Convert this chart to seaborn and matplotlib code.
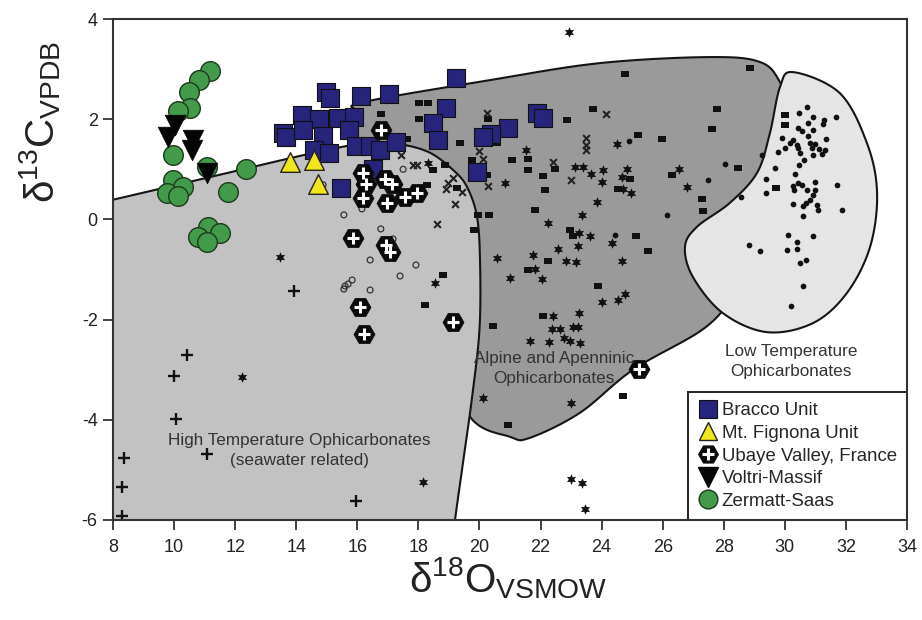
import numpy as np
import pandas as pd
import matplotlib
matplotlib.use("Agg")
import matplotlib.pyplot as plt
import seaborn as sns
from matplotlib.lines import Line2D
from matplotlib.legend_handler import HandlerTuple

# ---------------- data ----------------
bracco_x = [14.97, 15.11, 16.12, 17.04, 19.23, 14.19, 14.75, 15.37, 15.89, 13.57, 13.66,
            14.22, 14.88, 15.73, 15.96, 16.42, 16.74, 17.27, 14.58, 15.07, 16.51, 15.47,
            18.90, 18.48, 18.64, 21.88, 22.08, 20.93, 20.38, 20.12, 19.92]
bracco_y = [2.54, 2.42, 2.46, 2.50, 2.82, 2.08, 2.00, 2.02, 2.04, 1.72, 1.64,
            1.78, 1.66, 1.78, 1.47, 1.47, 1.39, 1.54, 1.39, 1.33, 1.01, 0.63,
            2.22, 1.92, 1.58, 2.12, 2.02, 1.82, 1.70, 1.64, 0.95]

fignona_x = [13.80, 14.58, 14.71]
fignona_y = [1.15, 1.19, 0.71]

ubaye_x = [16.78, 16.19, 16.28, 16.91, 17.14, 16.19, 16.97, 17.56, 17.95, 15.86, 16.94,
           17.07, 16.09, 16.22, 19.13, 25.22]
ubaye_y = [1.78, 0.93, 0.71, 0.81, 0.71, 0.43, 0.33, 0.45, 0.53, -0.37, -0.51,
           -0.65, -1.75, -2.29, -2.05, -2.99]

voltri_x = [10.03, 9.80, 10.62, 10.59, 11.08]
voltri_y = [1.88, 1.64, 1.58, 1.39, 0.93]

zermatt_x = [11.18, 10.82, 10.49, 10.52, 10.13, 9.96, 11.08, 12.35, 11.77, 9.96, 10.29,
             9.77, 10.13, 11.11, 11.50, 10.78, 11.08]
zermatt_y = [2.96, 2.78, 2.54, 2.22, 2.16, 1.29, 1.05, 1.01, 0.55, 0.79, 0.65,
             0.53, 0.47, -0.15, -0.27, -0.35, -0.45]

# literature data (background symbols)
rect_x = [24.77, 18.31, 23.72, 22.87, 25.20, 25.98, 19.36, 20.28, 20.57, 21.07, 21.59,
          21.59, 22.47, 22.08, 22.15, 19.75, 20.25, 18.87, 18.48, 18.28, 19.26, 24.93,
          24.54, 26.30, 27.28, 27.32, 27.61, 27.78, 21.82, 19.95, 20.31, 19.82, 22.96,
          23.06, 25.13, 25.52, 22.24, 21.59, 18.81, 18.22, 23.88, 22.08, 20.44, 24.70,
          20.93, 28.86, 28.47, 29.71, 30.01, 30.01, 18.02, 18.02, 16.77, 17.63]
rect_y = [2.90, 2.32, 2.20, 1.98, 1.68, 1.60, 1.52, 2.00, 1.52, 1.19, 1.21,
          0.99, 1.01, 0.87, 0.59, 1.19, 0.89, 1.09, 0.99, 0.69, 0.63, 0.81,
          0.61, 0.89, 0.41, 0.17, 1.80, 2.20, 0.19, 0.09, 0.09, -0.21, -0.21,
          -0.33, -0.33, -0.63, -0.83, -1.01, -1.11, -1.71, -1.33, -1.93, -2.13, -3.52,
          -4.10, 3.02, 1.03, 0.63, 2.08, 1.88, 2.32, 2.00, 2.10, 1.60]

cross_x = [20.25, 24.14, 23.49, 23.49, 23.49, 19.98, 20.12, 22.41, 23.00, 20.28, 19.20,
           18.61, 17.43, 17.82, 17.95, 19.13, 18.97, 18.90, 19.43]
cross_y = [2.12, 2.10, 1.62, 1.49, 1.38, 1.36, 1.21, 1.15, 0.79, 0.67, 0.31,
           -0.09, 1.28, 1.09, 1.09, 0.83, 0.73, 0.61, 0.55]

star_x = [22.93, 21.52, 24.50, 23.13, 23.39, 23.65, 24.04, 24.01, 24.83, 24.67, 24.70,
          24.96, 20.84, 23.85, 23.36, 26.53, 26.80, 22.24, 23.26, 23.62, 23.23, 24.34,
          22.57, 22.83, 23.16, 21.75, 20.57, 21.82, 22.05, 21.00, 24.67, 24.01, 24.54,
          24.76, 23.26, 22.41, 22.37, 22.64, 23.06, 23.23, 21.65, 22.28, 22.77, 22.96,
          23.29, 20.12, 23.00, 18.54, 18.31, 13.47, 12.22, 18.15, 23.00, 23.36, 23.46]
star_y = [3.74, 1.39, 1.51, 1.05, 1.05, 0.91, 0.99, 0.75, 1.01, 0.85, 0.61,
          0.53, 0.73, 0.35, 0.09, 1.01, 0.65, -0.07, -0.27, -0.33, -0.53, -0.47,
          -0.59, -0.83, -0.85, -0.71, -0.77, -0.99, -1.19, -1.17, -0.83, -1.65, -1.61,
          -1.49, -1.87, -1.93, -2.19, -2.19, -2.15, -2.15, -2.43, -2.45, -2.37, -2.43,
          -2.47, -3.56, -3.66, -1.27, 1.13, -0.75, -3.14, -5.24, -5.18, -5.26, -5.78]

dot_x = [24.90, 27.48, 26.14, 24.44, 28.04,
         30.73, 30.46, 31.68, 30.92, 31.28, 31.25, 30.76, 30.43, 30.56, 30.92, 30.76,
         29.91, 30.27, 31.35, 30.17, 30.40, 30.83, 30.99, 30.43, 30.01, 30.89, 31.12,
         31.32, 30.50, 30.92, 29.78, 29.25, 31.22, 30.63, 30.46, 29.68, 30.33, 29.38,
         30.43, 30.27, 30.56, 30.99, 31.71, 30.30, 30.73, 30.99, 29.38, 30.92, 30.83,
         28.56, 30.27, 30.60, 30.69, 31.05, 31.09, 31.87, 30.60, 30.10, 30.92, 30.40,
         28.83, 29.19, 30.07, 30.40, 30.69, 30.50, 30.60, 30.20]
dot_y = [1.57, 0.79, 0.09, -0.31, 1.11,
         2.24, 2.12, 2.04, 2.04, 1.98, 1.90, 1.92, 1.82, 1.76, 1.78, 1.66,
         1.62, 1.58, 1.60, 1.52, 1.48, 1.52, 1.50, 1.43, 1.43, 1.43, 1.41,
         1.39, 1.33, 1.29, 1.35, 1.29, 1.31, 1.19, 1.09, 1.03, 0.91, 0.81,
         0.73, 0.67, 0.69, 0.75, 0.69, 0.59, 0.59, 0.59, 0.53, 0.49, 0.39,
         0.45, 0.31, 0.27, 0.33, 0.29, 0.19, 0.19, 0.07, -0.31, -0.33, -0.45,
         -0.51, -0.63, -0.61, -0.59, -0.81, -0.87, -1.33, -1.73]

ring_x = [17.50, 14.88, 15.56, 16.15, 16.77, 17.17, 16.42, 17.92, 17.40, 15.83, 15.70,
          15.60, 15.56, 16.42]
ring_y = [1.00, 0.69, 0.09, 0.21, -0.19, -0.39, -0.81, -0.91, -1.13, -1.21, -1.29,
          -1.33, -1.39, -1.41]

plus_x = [13.93, 10.42, 10.00, 10.06, 8.36, 11.08, 8.30, 8.30, 15.96]
plus_y = [-1.43, -2.71, -3.13, -3.99, -4.77, -4.69, -5.35, -5.92, -5.62]

# field outlines
hight_x = [7.0, 11.0, 14.0, 15.7, 16.6, 17.5, 18.38, 19.13, 19.59, 19.92, 20.02, 20.0,
           19.76, 19.46, 19.2, 19.1]
hight_y = [0.25, 0.82, 1.25, 1.47, 1.53, 1.49, 1.33, 0.99, 0.65, 0.05, -0.87, -2.2,
           -3.54, -4.86, -6.0, -6.6]
alpine_x = [16.19, 20.34, 23.95, 27.55, 29.19, 29.84, 30.3, 30.0, 29.2, 28.3, 27.3, 25.03,
            23.29, 21.65, 21.0, 19.69, 18.8, 18.5, 16.5, 15.9, 15.95]
alpine_y = [2.34, 2.78, 3.12, 3.24, 3.14, 2.74, 2.0, 0.6, -0.7, -1.55, -2.2, -3.0,
            -3.86, -4.36, -4.34, -3.94, -2.5, 0.0, 1.0, 1.7, 2.15]
lowt_x = [30.27, 31.80, 32.69, 33.02, 32.79, 32.03, 30.92, 29.41, 27.97, 26.99, 26.73,
          27.12, 28.20, 29.09, 29.51, 29.84]
lowt_y = [2.94, 2.52, 1.52, 0.53, -0.55, -1.47, -2.07, -2.25, -1.87, -1.15, -0.55,
          -0.15, 0.33, 0.93, 1.72, 2.64]

xticks = [8, 10, 12, 14, 16, 18, 20, 22, 24, 26, 28, 30, 32, 34]
yticks = [-6, -4, -2, 0, 2, 4]
legend_labels = ["Bracco Unit", "Mt. Fignona Unit", "Ubaye Valley, France",
                 "Voltri-Massif", "Zermatt-Saas"]


def smooth(xs, ys, closed=False, n=24):
    P = np.column_stack([xs, ys]).astype(float)
    if closed:
        P = np.vstack([P[-1], P, P[0], P[1]])
    else:
        P = np.vstack([P[0], P, P[-1]])
    out = []
    t = np.linspace(0, 1, n, endpoint=False)[:, None]
    for i in range(1, len(P) - 2):
        p0, p1, p2, p3 = P[i - 1], P[i], P[i + 1], P[i + 2]
        seg = 0.5 * ((2 * p1) + (-p0 + p2) * t + (2 * p0 - 5 * p1 + 4 * p2 - p3) * t ** 2
                     + (-p0 + 3 * p1 - 3 * p2 + p3) * t ** 3)
        out.append(seg)
    if not closed:
        out.append(P[-2][None])
    return np.vstack(out)


# ---------------- styling ----------------
sns.set_theme(style="white")
plt.rcParams["font.family"] = ["Liberation Sans", "DejaVu Sans"]
plt.rcParams["mathtext.fontset"] = "custom"
plt.rcParams["mathtext.rm"] = "Liberation Sans"
plt.rcParams["mathtext.it"] = "Liberation Sans:italic"
plt.rcParams["mathtext.bf"] = "Liberation Sans:bold"

fig = plt.figure(figsize=(9.22, 6.2), dpi=100)
ax = fig.add_axes([113 / 922, 1 - 520 / 620, 794 / 922, 501 / 620])

EDGE = "#151515"

# fields
a = smooth(alpine_x, alpine_y, closed=True)
ax.fill(a[:, 0], a[:, 1], facecolor="#9a9a9a", edgecolor=EDGE, lw=1.5, zorder=1)
h = smooth(hight_x, hight_y)
h = np.vstack([h, [[7.0, -6.6]]])
ax.fill(h[:, 0], h[:, 1], facecolor="#c2c2c2", edgecolor=EDGE, lw=1.5, zorder=2)
l = smooth(lowt_x, lowt_y, closed=True)
ax.fill(l[:, 0], l[:, 1], facecolor="#e5e5e5", edgecolor=EDGE, lw=1.5, zorder=3)

# background literature symbols
rect_marker = [(-1, -0.6), (1, -0.6), (1, 0.6), (-1, 0.6), (-1, -0.6)]
sns.scatterplot(x=rect_x, y=rect_y, ax=ax, marker=rect_marker, s=40, color="#111111",
                linewidth=0, zorder=4, legend=False)
sns.scatterplot(x=cross_x, y=cross_y, ax=ax, marker="x", s=24, color="#222222",
                linewidth=1.5, zorder=4, legend=False)
sns.scatterplot(x=star_x, y=star_y, ax=ax, marker=(6, 1, 0), s=58, color="#111111",
                linewidth=0, zorder=4, legend=False)
sns.scatterplot(x=dot_x, y=dot_y, ax=ax, marker="o", s=17, color="#111111",
                linewidth=0, zorder=4, legend=False)
sns.scatterplot(x=ring_x, y=ring_y, ax=ax, marker="o", s=18, facecolor="none",
                edgecolor="#333333", linewidth=0.9, zorder=4, legend=False)
sns.scatterplot(x=plus_x, y=plus_y, ax=ax, marker="+", s=75, color="#111111",
                linewidth=1.7, zorder=4, legend=False)

# highlighted series
NAVY = "#27247c"
YEL = "#f1e51c"
GREEN = "#429a4a"
sns.scatterplot(x=zermatt_x, y=zermatt_y, ax=ax, marker="o", s=200, color=GREEN,
                edgecolor="#1d3a1d", linewidth=1.0, zorder=5, legend=False)
sns.scatterplot(x=voltri_x, y=voltri_y, ax=ax, marker="v", s=220, color="#050505",
                edgecolor="#050505", linewidth=0.5, zorder=6, legend=False)
sns.scatterplot(x=bracco_x, y=bracco_y, ax=ax, marker="s", s=165, color=NAVY,
                edgecolor="#111111", linewidth=0.8, zorder=6, legend=False)
sns.scatterplot(x=fignona_x, y=fignona_y, ax=ax, marker="^", s=200, color=YEL,
                edgecolor="#222222", linewidth=1.0, zorder=7, legend=False)
sns.scatterplot(x=ubaye_x, y=ubaye_y, ax=ax, marker="H", s=230, color="#0a0a0a",
                edgecolor="#0a0a0a", linewidth=0.5, zorder=8, legend=False)
sns.scatterplot(x=ubaye_x, y=ubaye_y, ax=ax, marker="+", s=70, color="white",
                linewidth=2.2, zorder=9, legend=False)

# field labels
ax.text(14.1, -4.62, "High Temperature Ophicarbonates\n(seawater related)", ha="center",
        va="center", fontsize=12.3, color="#333333", linespacing=1.4, zorder=10)
ax.text(22.45, -2.97, "Alpine and Apenninic\nOphicarbonates", ha="center",
        va="center", fontsize=12.3, color="#333333", linespacing=1.4, zorder=10)
ax.text(30.2, -2.84, "Low Temperature\nOphicarbonates", ha="center",
        va="center", fontsize=12.3, color="#333333", linespacing=1.4, zorder=10)

# axes
ax.set_xlim(8, 34)
ax.set_ylim(-6, 4)
ax.set_xticks(xticks)
ax.set_yticks(yticks)
ax.set_xticklabels([str(v) for v in xticks])
ax.set_yticklabels([str(v) for v in yticks])
ax.tick_params(axis="both", direction="out", length=7, width=1.3, color="#333333",
               labelsize=13, labelcolor="#222222", bottom=True, left=True)
ax.tick_params(axis="x", pad=7)
ax.tick_params(axis="y", pad=4)
for sp in ax.spines.values():
    sp.set_color("#333333")
    sp.set_linewidth(1.5)
    sp.set_zorder(20)
ax.set_xlabel("")
ax.set_ylabel("")

fig.text(40 / 922, 1 - 122 / 620, r"$\mathrm{δ}^{13}\mathrm{C}_{\mathrm{VPDB}}$",
         rotation=90, ha="center", va="center", fontsize=29, color="#222222")
fig.text(508 / 922, 1 - 578 / 620, r"$\mathrm{δ}^{18}\mathrm{O}_{\mathrm{VSMOW}}$",
         ha="center", va="center", fontsize=29, color="#222222")

# legend
handles = [
    Line2D([], [], ls="", marker="s", ms=12.5, mfc=NAVY, mec="#111111", mew=0.8),
    Line2D([], [], ls="", marker="^", ms=13.5, mfc=YEL, mec="#222222", mew=1.0),
    (Line2D([], [], ls="", marker="H", ms=14, mfc="#0a0a0a", mec="#0a0a0a"),
     Line2D([], [], ls="", marker="+", ms=8, mec="white", mew=2.2)),
    Line2D([], [], ls="", marker="v", ms=14, mfc="#050505", mec="#050505"),
    Line2D([], [], ls="", marker="o", ms=13.5, mfc=GREEN, mec="#1d3a1d", mew=1.0),
]
leg = ax.legend(handles, legend_labels, loc="lower right", bbox_to_anchor=(1.0, 0.0),
                borderaxespad=0, frameon=True, fancybox=False, fontsize=13.4,
                handlelength=1.0, handletextpad=0.25, labelspacing=0.3, borderpad=0.55,
                handler_map={tuple: HandlerTuple(ndivide=1, pad=0)})
leg.get_frame().set_edgecolor("#222222")
leg.get_frame().set_linewidth(1.4)
leg.get_frame().set_facecolor("white")
leg.get_frame().set_alpha(1)
leg.set_zorder(15)

fig.savefig("out.png", dpi=100)
